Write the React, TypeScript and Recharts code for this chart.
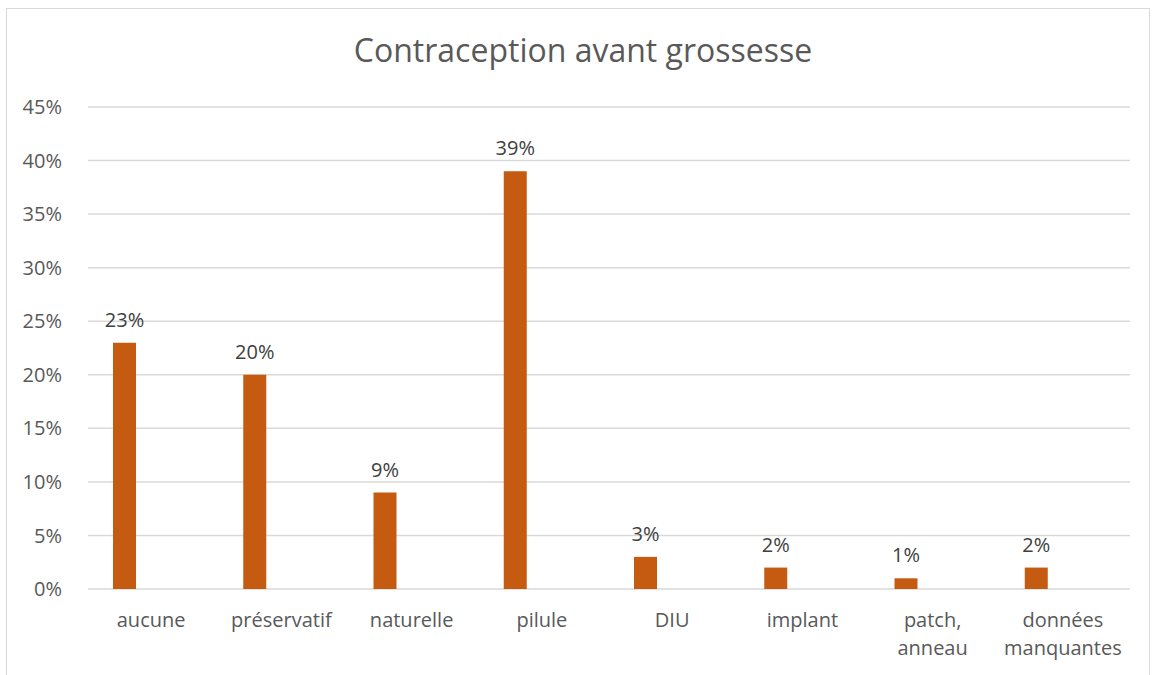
import { BarChart, Bar, XAxis, YAxis, CartesianGrid, LabelList } from "recharts"

const categories = ["aucune", "préservatif", "naturelle", "pilule", "DIU", "implant", "patch, anneau", "données manquantes"]
const shares = [23, 20, 9, 39, 3, 2, 1, 2]
const yTicks = [0, 5, 10, 15, 20, 25, 30, 35, 40, 45]

const data = categories.map((name, i) => ({ name, value: shares[i], empty: null }))

const FONT = "'Open Sans', sans-serif"

function CategoryTick(props: any) {
  const { x, y, payload } = props
  const label: string = payload.value
  const lines = label.length > 12 ? label.split(" ") : [label]
  return (
    <text x={x - 2} y={y} textAnchor="middle" fill="#595959" fontSize={20} fontFamily={FONT}>
      {lines.map((line, i) => (
        <tspan key={i} x={x - 2} dy={i === 0 ? 30 : 28}>
          {line}
        </tspan>
      ))}
    </text>
  )
}

export default function App() {
  return (
    <div style={{ position: "absolute", left: 0, top: 0, width: 1152, height: 675, background: "#fff", overflow: "hidden" }}>
      <div style={{ position: "absolute", left: 6, top: 8, width: 1144, height: 700, border: "1px solid #D9D9D9", boxSizing: "border-box" }} />
      <div style={{ position: "absolute", left: 0, top: 28, width: 1166, textAlign: "center", fontFamily: FONT, fontSize: 32, color: "#595959" }}>
        Contraception avant grossesse
      </div>
      <div style={{ position: "absolute", left: 0, top: 0 }}>
        <BarChart width={1152} height={675} data={data} margin={{ top: 107, right: 22, bottom: 0, left: 0 }} barSize={23} barGap={34}>
          <CartesianGrid vertical={false} stroke="#D9D9D9" strokeWidth={1.5} />
          <XAxis dataKey="name" height={86} axisLine={false} tickLine={false} tick={<CategoryTick />} interval={0} />
          <YAxis
            width={88}
            domain={[0, 45]}
            ticks={yTicks}
            axisLine={false}
            tickLine={false}
            tickMargin={20}
            tickFormatter={(v: number) => `${v}%`}
            tick={{ fill: "#595959", fontSize: 20, fontFamily: FONT }}
          />
          <Bar dataKey="value" fill="#C55A11" isAnimationActive={false}>
            <LabelList dataKey="value" position="top" offset={16} formatter={(v: any) => `${v}%`} fill="#404040" fontSize={20} fontFamily={FONT} />
          </Bar>
          <Bar dataKey="empty" fill="#C55A11" isAnimationActive={false} />
        </BarChart>
      </div>
    </div>
  )
}
